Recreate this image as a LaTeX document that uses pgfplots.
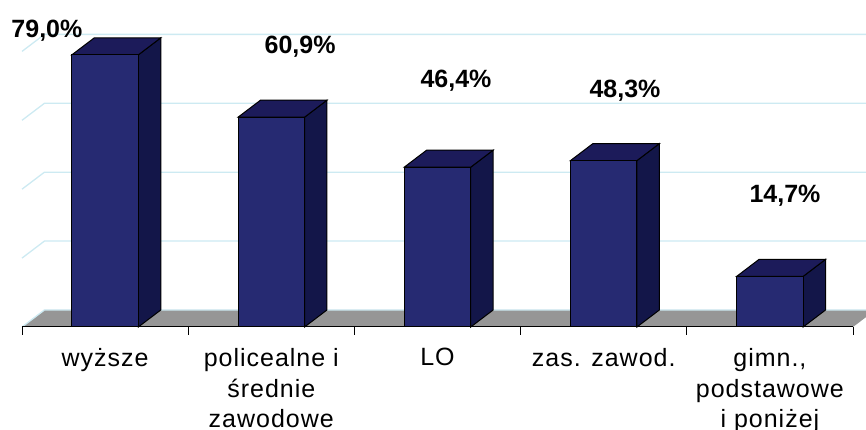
\documentclass[border=0pt]{standalone}
\usepackage{pgfplots}
\pgfplotsset{compat=1.18}
\usepackage{fontspec}
\setmainfont{Liberation Sans}
\newfontfamily\catfont[LetterSpace=4]{Liberation Sans}
\definecolor{frontc}{HTML}{262A72}
\definecolor{topc}{HTML}{1C1B5A}
\definecolor{sidec}{HTML}{131649}
\definecolor{floorc}{HTML}{969696}
\definecolor{gridc}{HTML}{CDEAF2}
\begin{document}
\begin{tikzpicture}
\useasboundingbox (-22pt,-103pt) rectangle (844pt,327pt);
\begin{axis}[
  at={(0pt,0pt)}, anchor=south west,
  scale only axis, width=831pt, height=327pt,
  xmin=-0.5, xmax=4.5, ymin=0, ymax=94.92,
  clip=false, axis on top,
  axis x line*=bottom, axis y line=none,
  x axis line style={-, black, line width=1pt},
  xtick={0,1,2,3,4},
  xticklabels={wyższe,{policealne i\\średnie\\zawodowe},LO,zas. zawod.,{gimn.,\\podstawowe\\i poniżej}},
  major tick length=0pt,
  xticklabel style={align=center, font=\catfont\fontsize{25}{30.5}\selectfont, yshift=-18pt},
  extra x ticks={-0.5,0.5,1.5,2.5,3.5,4.5},
  extra x tick labels={},
  extra x tick style={major tick length=8pt, tick align=outside, tick style={black, line width=0.8pt}},
]
% back wall grid lines with left wall diagonals
\addplot[gridc, line width=1.3pt] coordinates {(-0.5,20) (-0.365,24.94) (4.7,24.94)};
\addplot[gridc, line width=1.3pt] coordinates {(-0.5,40) (-0.365,44.94) (4.7,44.94)};
\addplot[gridc, line width=1.3pt] coordinates {(-0.5,60) (-0.365,64.94) (4.7,64.94)};
\addplot[gridc, line width=1.3pt] coordinates {(-0.5,80) (-0.365,84.94) (4.7,84.94)};
% floor
\addplot[fill=floorc, draw=none] coordinates {(-0.5,0) (4.5,0) (4.635,4.94) (-0.365,4.94)} -- cycle;
\addplot[gridc, line width=1.3pt] coordinates {(-0.5,0) (-0.365,4.94) (4.7,4.94)};
% side faces
\addplot[fill=sidec, draw=black, line width=1pt] coordinates {(0.2,0) (0.335,4.94) (0.335,83.94) (0.2,79.0)} -- cycle;
\addplot[fill=sidec, draw=black, line width=1pt] coordinates {(1.2,0) (1.335,4.94) (1.335,65.84) (1.2,60.9)} -- cycle;
\addplot[fill=sidec, draw=black, line width=1pt] coordinates {(2.2,0) (2.335,4.94) (2.335,51.34) (2.2,46.4)} -- cycle;
\addplot[fill=sidec, draw=black, line width=1pt] coordinates {(3.2,0) (3.335,4.94) (3.335,53.24) (3.2,48.3)} -- cycle;
\addplot[fill=sidec, draw=black, line width=1pt] coordinates {(4.2,0) (4.335,4.94) (4.335,19.64) (4.2,14.7)} -- cycle;
% top faces
\addplot[fill=topc, draw=black, line width=1pt] coordinates {(-0.2,79.0) (-0.065,83.94) (0.335,83.94) (0.2,79.0)} -- cycle;
\addplot[fill=topc, draw=black, line width=1pt] coordinates {(0.8,60.9) (0.935,65.84) (1.335,65.84) (1.2,60.9)} -- cycle;
\addplot[fill=topc, draw=black, line width=1pt] coordinates {(1.8,46.4) (1.935,51.34) (2.335,51.34) (2.2,46.4)} -- cycle;
\addplot[fill=topc, draw=black, line width=1pt] coordinates {(2.8,48.3) (2.935,53.24) (3.335,53.24) (3.2,48.3)} -- cycle;
\addplot[fill=topc, draw=black, line width=1pt] coordinates {(3.8,14.7) (3.935,19.64) (4.335,19.64) (4.2,14.7)} -- cycle;
% front faces
\addplot[ybar, bar width=0.4, fill=frontc, draw=black, line width=1pt] coordinates {(0,79.0) (1,60.9) (2,46.4) (3,48.3) (4,14.7)};
% value labels
\begin{scope}[every node/.style={font=\fontsize{25}{30}\selectfont\bfseries, inner sep=0pt}]
\node at (axis cs:-0.35,86.0) {79,0\%};
\node at (axis cs:1.173,81.4) {60,9\%};
\node at (axis cs:2.111,71.5) {46,4\%};
\node at (axis cs:3.128,68.6) {48,3\%};
\node at (axis cs:4.091,38.1) {14,7\%};
\end{scope}
\end{axis}
\end{tikzpicture}
\end{document}
